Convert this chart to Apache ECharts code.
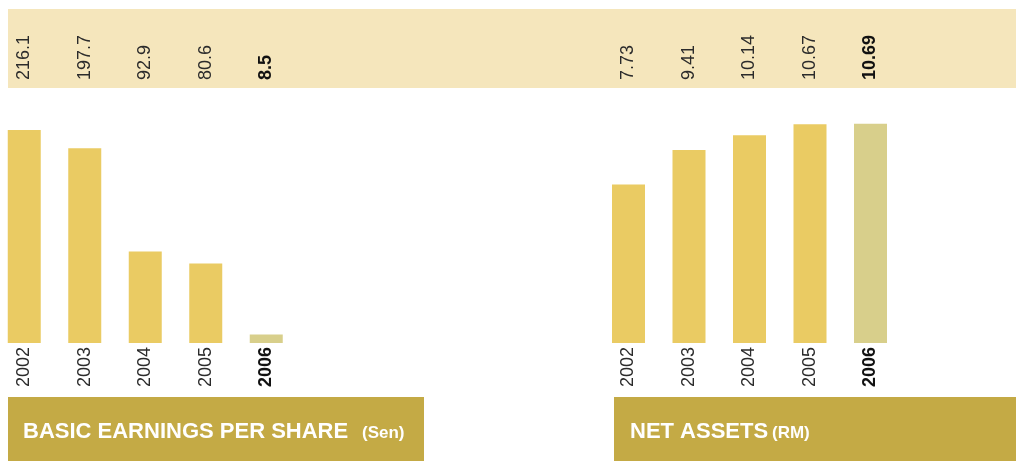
<!DOCTYPE html>
<html lang="en">
<head>
    <meta charset="utf-8">
    <title>ECharts</title>
    <script src="https://cdn.jsdelivr.net/npm/echarts@6/dist/echarts.min.js"></script>
    <style>
        html, body { margin: 0; padding: 0; background: #fff; }
        #main { width: 1016px; height: 461px; }
    </style>
</head>
<body>
<div id="main"></div>
<script type="text/javascript">
    // data
    var years = ['2002', '2003', '2004', '2005', '2006'];
    var epsValues = [216.1, 197.7, 92.9, 80.6, 8.5];
    var epsLabels = ['216.1', '197.7', '92.9', '80.6', '8.5'];
    var naValues = [7.73, 9.41, 10.14, 10.67, 10.69];
    var naLabels = ['7.73', '9.41', '10.14', '10.67', '10.69'];

    var barColor = '#EACB63';
    var lastColor = '#D8CF8B';
    var font = '"Liberation Sans", Arial, sans-serif';

    var myChart = echarts.init(document.getElementById('main'));

    function catData(list) {
        return list.map(function (v, i) {
            if (i == list.length - 1) {
                return {value: v, textStyle: {fontWeight: 'bold', color: '#111'}};
            }
            return v;
        });
    }
    function barData(list) {
        return list.map(function (v, i) {
            return {value: v, itemStyle: {color: i == list.length - 1 ? lastColor : barColor}};
        });
    }

    function lbl(margin, rot) {
        return {
            rotate: rot,
            margin: margin,
            fontSize: 18,
            fontFamily: font,
            color: '#2b2b2b',
            interval: 0
        };
    }

    option = {
        animation: false,
        backgroundColor: '#fff',
        graphic: [
            {type: 'rect', shape: {x: 8, y: 9, width: 1008, height: 79}, style: {fill: '#F5E6BC'}, z: -10},
            {type: 'rect', shape: {x: 8, y: 397, width: 416, height: 64}, style: {fill: '#C4AA45'}},
            {type: 'rect', shape: {x: 614, y: 397, width: 402, height: 64}, style: {fill: '#C4AA45'}},
            {type: 'text', x: 23, y: 443, style: {text: 'BASIC EARNINGS PER SHARE', fill: '#fff', font: 'bold 22px ' + font, verticalAlign: 'bottom'}},
            {type: 'text', x: 362, y: 442, style: {text: '(Sen)', fill: '#fff', font: 'bold 17px ' + font, verticalAlign: 'bottom'}},
            {type: 'text', x: 630, y: 443, style: {text: 'NET ASSETS', fill: '#fff', font: 'bold 22px ' + font, verticalAlign: 'bottom'}},
            {type: 'text', x: 772, y: 442, style: {text: '(RM)', fill: '#fff', font: 'bold 17px ' + font, verticalAlign: 'bottom'}}
        ],
        grid: [
            {left: -6, top: 88, width: 302.5, height: 255, outerBoundsMode: 'none'},
            {left: 598.25, top: 88, width: 302.5, height: 255, outerBoundsMode: 'none'}
        ],
        xAxis: [
            {type: 'category', gridIndex: 0, data: catData(years), position: 'bottom',
                axisLine: {show: false}, axisTick: {show: false}, axisLabel: lbl(4, 90)},
            {type: 'category', gridIndex: 0, data: catData(epsLabels), position: 'top',
                axisLine: {show: false}, axisTick: {show: false}, axisLabel: lbl(8, -90)},
            {type: 'category', gridIndex: 1, data: catData(years), position: 'bottom',
                axisLine: {show: false}, axisTick: {show: false}, axisLabel: lbl(4, 90)},
            {type: 'category', gridIndex: 1, data: catData(naLabels), position: 'top',
                axisLine: {show: false}, axisTick: {show: false}, axisLabel: lbl(8, -90)}
        ],
        yAxis: [
            {type: 'value', gridIndex: 0, min: 0, max: 258.7, show: false},
            {type: 'value', gridIndex: 1, min: 0, max: 12.44, show: false}
        ],
        series: [
            {
                name: 'BASIC EARNINGS PER SHARE',
                type: 'bar',
                xAxisIndex: 0,
                yAxisIndex: 0,
                barWidth: 33,
                data: barData(epsValues)
            },
            {
                name: 'NET ASSETS',
                type: 'bar',
                xAxisIndex: 2,
                yAxisIndex: 1,
                barWidth: 33,
                data: barData(naValues)
            }
        ]
    };

    myChart.setOption(option);
</script>
</body>
</html>
